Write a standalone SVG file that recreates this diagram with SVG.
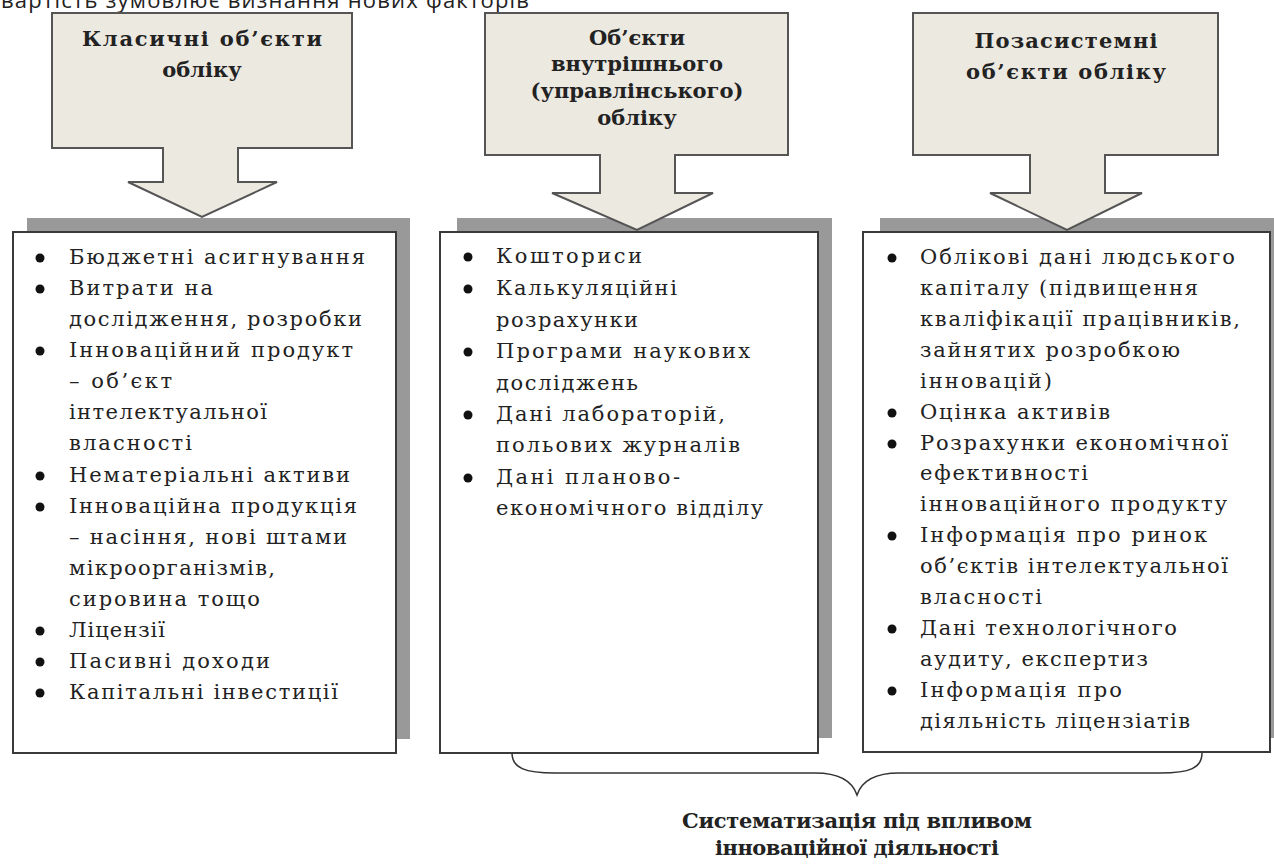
<svg xmlns="http://www.w3.org/2000/svg" width="1274" height="865" viewBox="0 0 1274 865">
<style>
.top{font-family:"Open Sans","Noto Sans",sans-serif;font-size:22px;fill:#222}
.callout{fill:#ece9e1;stroke:#555;stroke-width:2}
.shadow{fill:#999}
.box{fill:#fff;stroke:#3a3a3a;stroke-width:2}
.ttl{font-family:"DejaVu Serif","Liberation Serif",serif;font-weight:bold;font-size:21px;fill:#222;text-anchor:middle}
.li{font-family:"DejaVu Serif","Liberation Serif",serif;font-size:21px;fill:#222}
.bul{fill:#111}
.brace{fill:none;stroke:#333;stroke-width:1.5}
</style>
<rect width="1274" height="865" fill="#fff"/>
<text class="top" x="1" y="8" textLength="528" lengthAdjust="spacing">вартість зумовлює визнання нових факторів</text>

<g id="shadows">
<rect class="shadow" x="27" y="218" width="383" height="521"/>
<rect class="shadow" x="457" y="218" width="375" height="520"/>
<rect class="shadow" x="880" y="218" width="400" height="520"/>
</g>

<g id="box-classic">
<rect class="box" x="13" y="232" width="383" height="521"/>
<g class="bul">
<circle cx="40" cy="258" r="4.5"/><circle cx="40" cy="289" r="4.5"/><circle cx="40" cy="351" r="4.5"/>
<circle cx="40" cy="476" r="4.5"/><circle cx="40" cy="507" r="4.5"/><circle cx="40" cy="631" r="4.5"/>
<circle cx="40" cy="662" r="4.5"/><circle cx="40" cy="693" r="4.5"/>
</g>
<text class="li" x="69" y="264" textLength="296" lengthAdjust="spacing">Бюджетні асигнування</text>
<text class="li" x="69" y="295" textLength="144" lengthAdjust="spacing">Витрати на</text>
<text class="li" x="69" y="326" textLength="293" lengthAdjust="spacing">дослідження, розробки</text>
<text class="li" x="69" y="357" textLength="284" lengthAdjust="spacing">Інноваційний продукт</text>
<text class="li" x="69" y="388" textLength="103" lengthAdjust="spacing">– об’єкт</text>
<text class="li" x="69" y="419" textLength="198" lengthAdjust="spacing">інтелектуальної</text>
<text class="li" x="69" y="450" textLength="123" lengthAdjust="spacing">власності</text>
<text class="li" x="69" y="482" textLength="281" lengthAdjust="spacing">Нематеріальні  активи</text>
<text class="li" x="69" y="513" textLength="288" lengthAdjust="spacing">Інноваційна продукція</text>
<text class="li" x="69" y="544" textLength="278" lengthAdjust="spacing">– насіння, нові штами</text>
<text class="li" x="69" y="575" textLength="206" lengthAdjust="spacing">мікроорганізмів,</text>
<text class="li" x="69" y="606" textLength="191" lengthAdjust="spacing">сировина тощо</text>
<text class="li" x="69" y="637" textLength="96" lengthAdjust="spacing">Ліцензії</text>
<text class="li" x="69" y="668" textLength="201" lengthAdjust="spacing">Пасивні доходи</text>
<text class="li" x="69" y="699" textLength="269" lengthAdjust="spacing">Капітальні інвестиції</text>
</g>

<g id="box-internal">
<rect class="box" x="440" y="232" width="378" height="521"/>
<g class="bul">
<circle cx="468" cy="257" r="4.5"/><circle cx="468" cy="289" r="4.5"/><circle cx="468" cy="352" r="4.5"/>
<circle cx="468" cy="415" r="4.5"/><circle cx="468" cy="478" r="4.5"/>
</g>
<text class="li" x="496" y="263" textLength="146" lengthAdjust="spacing">Кошториси</text>
<text class="li" x="496" y="295" textLength="181" lengthAdjust="spacing">Калькуляційні</text>
<text class="li" x="496" y="327" textLength="142" lengthAdjust="spacing">розрахунки</text>
<text class="li" x="496" y="358" textLength="254" lengthAdjust="spacing">Програми наукових</text>
<text class="li" x="496" y="390" textLength="142" lengthAdjust="spacing">досліджень</text>
<text class="li" x="496" y="421" textLength="229" lengthAdjust="spacing">Дані лабораторій,</text>
<text class="li" x="496" y="452" textLength="244" lengthAdjust="spacing">польових журналів</text>
<text class="li" x="496" y="484" textLength="184" lengthAdjust="spacing">Дані планово-</text>
<text class="li" x="496" y="515" textLength="267" lengthAdjust="spacing">економічного відділу</text>
</g>

<g id="box-offsystem">
<rect class="box" x="863" y="232" width="407" height="520"/>
<g class="bul">
<circle cx="892" cy="258" r="4.5"/><circle cx="892" cy="413" r="4.5"/><circle cx="892" cy="444" r="4.5"/>
<circle cx="892" cy="536" r="4.5"/><circle cx="892" cy="629" r="4.5"/><circle cx="892" cy="691" r="4.5"/>
</g>
<text class="li" x="920" y="264" textLength="315" lengthAdjust="spacing">Облікові дані людського</text>
<text class="li" x="920" y="295" textLength="278" lengthAdjust="spacing">капіталу (підвищення</text>
<text class="li" x="920" y="326" textLength="320" lengthAdjust="spacing">кваліфікації  працівників,</text>
<text class="li" x="920" y="357" textLength="260" lengthAdjust="spacing">зайнятих розробкою</text>
<text class="li" x="920" y="388" textLength="132" lengthAdjust="spacing">інновацій)</text>
<text class="li" x="920" y="419" textLength="190" lengthAdjust="spacing">Оцінка активів</text>
<text class="li" x="920" y="450" textLength="308" lengthAdjust="spacing">Розрахунки економічної</text>
<text class="li" x="920" y="480" textLength="168" lengthAdjust="spacing">ефективності</text>
<text class="li" x="920" y="511" textLength="307" lengthAdjust="spacing">інноваційного продукту</text>
<text class="li" x="920" y="542" textLength="287" lengthAdjust="spacing">Інформація про ринок</text>
<text class="li" x="920" y="573" textLength="308" lengthAdjust="spacing">об’єктів інтелектуальної</text>
<text class="li" x="920" y="604" textLength="122" lengthAdjust="spacing">власності</text>
<text class="li" x="920" y="635" textLength="257" lengthAdjust="spacing">Дані технологічного</text>
<text class="li" x="920" y="666" textLength="228" lengthAdjust="spacing">аудиту, експертиз</text>
<text class="li" x="920" y="697" textLength="202" lengthAdjust="spacing">Інформація про</text>
<text class="li" x="920" y="728" textLength="270" lengthAdjust="spacing">діяльність  ліцензіатів</text>
</g>

<g id="callout-classic">
<path class="callout" d="M52,13 H352 V148 H238 V182 H277 L202,217 L128,182 H163 V148 H52 Z"/>
<text class="ttl" x="202" y="46" textLength="240" lengthAdjust="spacing">Класичні об’єкти</text>
<text class="ttl" x="202" y="77">обліку</text>
</g>

<g id="callout-internal">
<path class="callout" d="M485,13 H788 V155 H675 V193 H713 L637,230 L552,193 H600 V155 H485 Z"/>
<text class="ttl" x="637" y="45">Об’єкти</text>
<text class="ttl" x="637" y="71">внутрішнього</text>
<text class="ttl" x="637" y="98">(управлінського)</text>
<text class="ttl" x="637" y="125">обліку</text>
</g>

<g id="callout-offsystem">
<path class="callout" d="M913,13 H1218 V155 H1105 V193 H1142 L1067,230 L990,193 H1030 V155 H913 Z"/>
<text class="ttl" x="1066" y="48" textLength="183" lengthAdjust="spacing">Позасистемні</text>
<text class="ttl" x="1066" y="79" textLength="200" lengthAdjust="spacing">об’єкти обліку</text>
</g>

<g id="connectors">
<path class="brace" d="M512,753 C512,768 525,773 555,773 L815,773 C842,773 853,783 857,795 C861,783 872,773 899,773 L1160,773 C1190,773 1202,768 1202,753"/>
</g>

<g id="summary">
<text class="ttl" x="857" y="828" textLength="350" lengthAdjust="spacing">Систематизація під впливом</text>
<text class="ttl" x="857" y="855" textLength="284" lengthAdjust="spacing">інноваційної діяльності</text>
</g>
</svg>
